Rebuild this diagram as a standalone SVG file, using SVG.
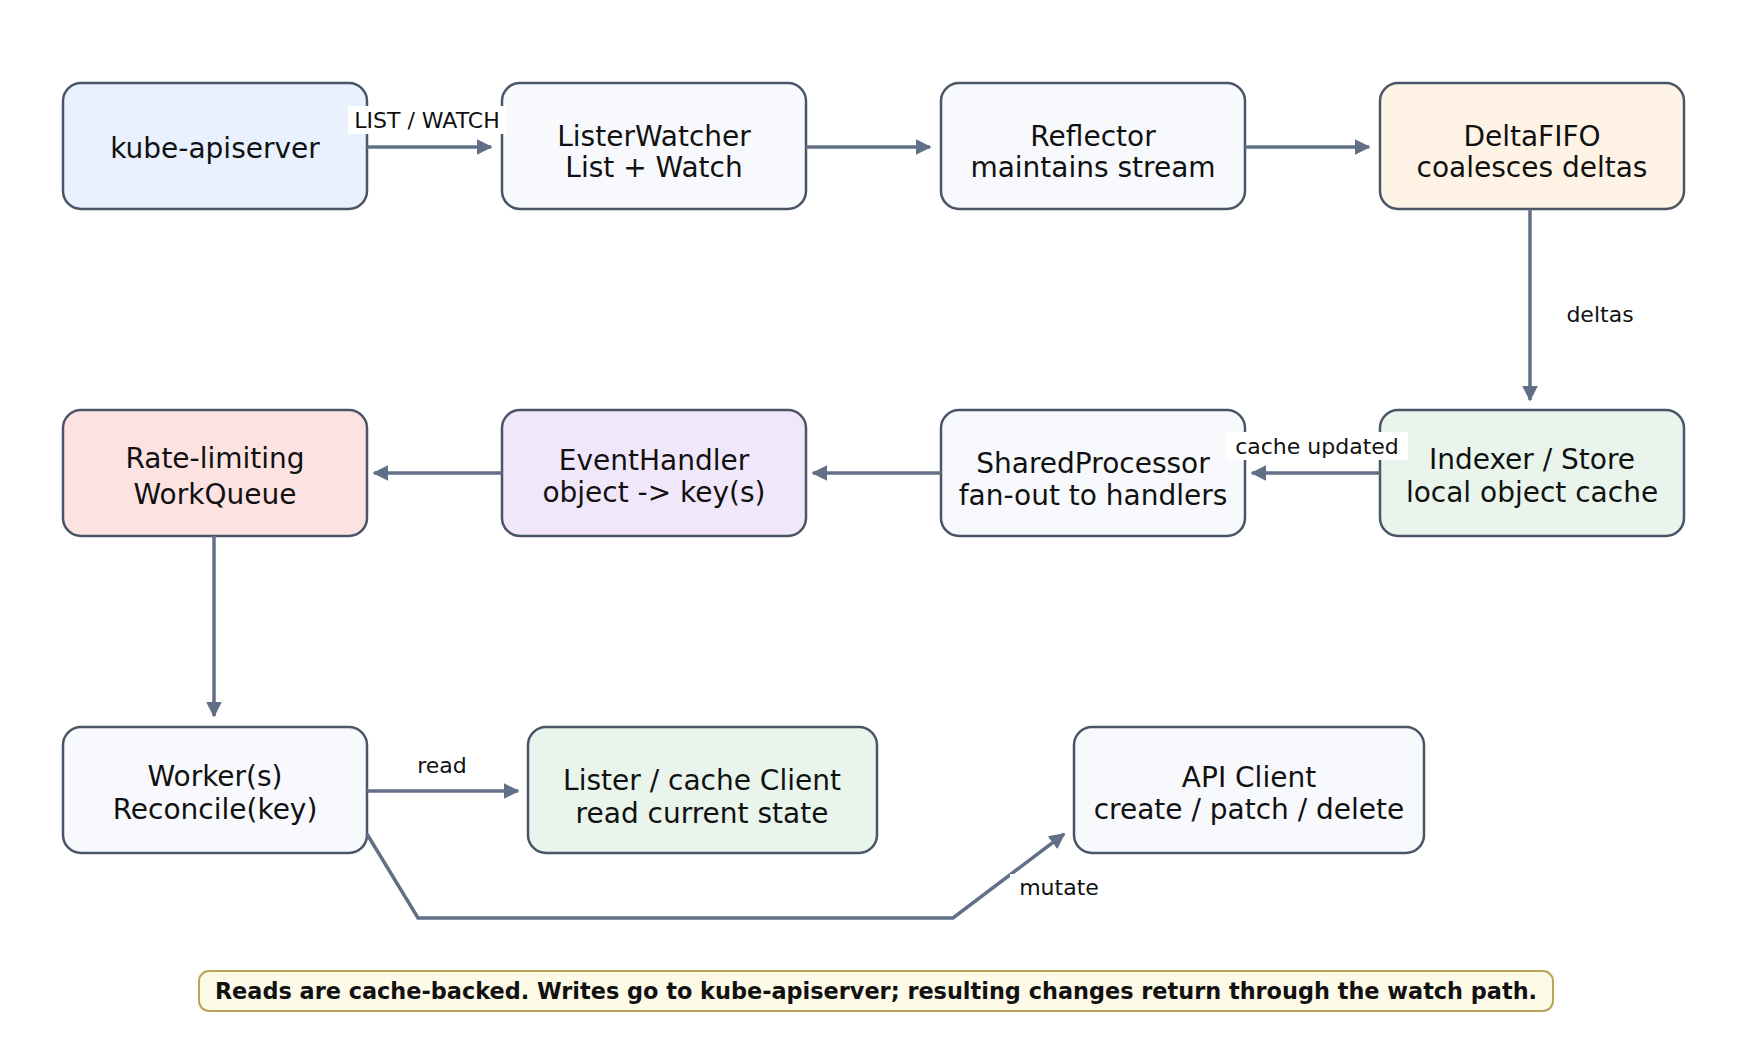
<svg xmlns="http://www.w3.org/2000/svg" width="1750" height="1050" viewBox="0 0 1750 1050">
<style>
.n{stroke:#4a5568;stroke-width:2.5}
.t{font-family:"DejaVu Sans",sans-serif;font-size:28px;fill:#111;text-anchor:middle}
.l{font-family:"DejaVu Sans",sans-serif;font-size:22px;fill:#111;text-anchor:middle}
.e{stroke:#627087;stroke-width:3.5;fill:none;marker-end:url(#a2)}
</style>
<defs>
<marker id="a2" viewBox="0 0 10 10" refX="9" refY="5" markerWidth="16" markerHeight="16" orient="auto" markerUnits="userSpaceOnUse"><path d="M0,0 L10,5 L0,10 z" fill="#627087"/></marker></defs>
<rect width="1750" height="1050" fill="#fff"/>
<g id="kube"><rect class="n" x="63" y="83" width="304" height="126" rx="18" fill="#e8f1fd"/><text class="t" x="215" y="158">kube-apiserver</text></g>
<g id="lw"><rect class="n" x="502" y="83" width="304" height="126" rx="18" fill="#f7f9fc"/><text class="t" x="654" y="146">ListerWatcher</text><text class="t" x="654" y="177">List + Watch</text></g>
<g id="refl"><rect class="n" x="941" y="83" width="304" height="126" rx="18" fill="#f7f9fc"/><text class="t" x="1093" y="146">Reflector</text><text class="t" x="1093" y="177">maintains stream</text></g>
<g id="df"><rect class="n" x="1380" y="83" width="304" height="126" rx="18" fill="#fef3e4"/><text class="t" x="1532" y="146">DeltaFIFO</text><text class="t" x="1532" y="177">coalesces deltas</text></g>
<g id="rl"><rect class="n" x="63" y="410" width="304" height="126" rx="18" fill="#fde2e2"/><text class="t" x="215" y="468">Rate-limiting</text><text class="t" x="215" y="504">WorkQueue</text></g>
<g id="eh"><rect class="n" x="502" y="410" width="304" height="126" rx="18" fill="#f1e7fb"/><text class="t" x="654" y="470">EventHandler</text><text class="t" x="654" y="502">object -&gt; key(s)</text></g>
<g id="sp"><rect class="n" x="941" y="410" width="304" height="126" rx="18" fill="#f7f9fc"/><text class="t" x="1093" y="473">SharedProcessor</text><text class="t" x="1093" y="505">fan-out to handlers</text></g>
<g id="idx"><rect class="n" x="1380" y="410" width="304" height="126" rx="18" fill="#e9f5ec"/><text class="t" x="1532" y="469">Indexer / Store</text><text class="t" x="1532" y="502">local object cache</text></g>
<g id="worker"><rect class="n" x="63" y="727" width="304" height="126" rx="18" fill="#f7f9fc"/><text class="t" x="215" y="786">Worker(s)</text><text class="t" x="215" y="819">Reconcile(key)</text></g>
<g id="lister"><rect class="n" x="528" y="727" width="349" height="126" rx="18" fill="#e9f5ec"/><text class="t" x="702" y="790">Lister / cache Client</text><text class="t" x="702" y="823">read current state</text></g>
<g id="api"><rect class="n" x="1074" y="727" width="350" height="126" rx="18" fill="#f7f9fc"/><text class="t" x="1249" y="787">API Client</text><text class="t" x="1249" y="819">create / patch / delete</text></g>
<g id="note"><rect x="199" y="971" width="1354" height="40" rx="10" fill="#fdfae8" stroke="#b8a35a" stroke-width="2"/><text x="876" y="999" style="font-family:'DejaVu Sans',sans-serif;font-size:22.4px;font-weight:bold;text-anchor:middle;fill:#111">Reads are cache-backed. Writes go to kube-apiserver; resulting changes return through the watch path.</text></g>
<g id="connectors">
<path class="e" d="M367,147 H491"/>
<path class="e" d="M806,147 H930"/>
<path class="e" d="M1245,147 H1369"/>
<path class="e" d="M1530,209 V400"/>
<path class="e" d="M1380,473 H1252"/>
<path class="e" d="M941,473 H813"/>
<path class="e" d="M502,473 H374"/>
<path class="e" d="M214,536 V716"/>
<path class="e" d="M367,791 H518"/>
<path class="e" d="M367,834 L418,918 H953 L1064,834"/>
<rect x="348" y="106" width="158" height="28" fill="#fff"/>
<text class="l" x="427" y="128">LIST / WATCH</text>
<text class="l" x="1600" y="322">deltas</text>
<rect x="1226" y="432" width="182" height="28" fill="#fff"/>
<text class="l" x="1317" y="454">cache updated</text>
<text class="l" x="442" y="773">read</text>
<rect x="1010" y="874" width="96" height="28" fill="#fff"/>
<text class="l" x="1059" y="895">mutate</text>
</g>
</svg>
